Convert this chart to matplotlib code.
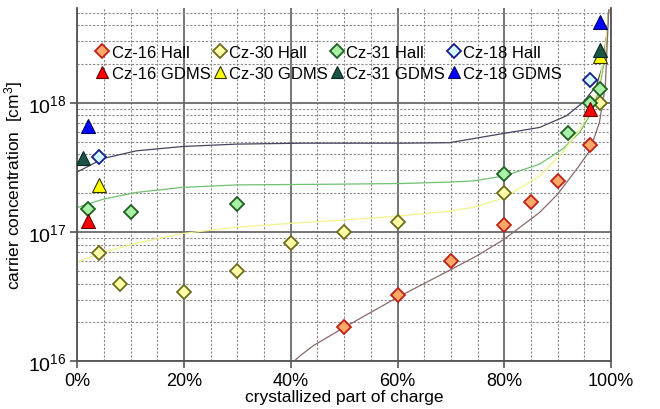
import math
import matplotlib
matplotlib.use("Agg")
import matplotlib.pyplot as plt
from matplotlib.ticker import FixedLocator, LogLocator, NullFormatter, FuncFormatter

plt.rcParams['font.family'] = ['Liberation Sans', 'DejaVu Sans']
plt.rcParams['mathtext.fontset'] = 'custom'
plt.rcParams['mathtext.rm'] = 'Liberation Sans'
plt.rcParams['mathtext.it'] = 'Liberation Sans:italic'

# ---- measured points (fraction crystallized, carrier concentration cm^-3) ----
x16_hall = [0.50, 0.60, 0.70, 0.80, 0.85, 0.90, 0.96]
c16_hall = [1.85e16, 3.26e16, 6.0e16, 1.14e17, 1.70e17, 2.5e17, 4.7e17]

x30_hall = [0.04, 0.08, 0.20, 0.30, 0.40, 0.50, 0.60, 0.80, 0.98]
c30_hall = [6.9e16, 4.0e16, 3.45e16, 4.96e16, 8.2e16, 1.0e17, 1.2e17, 2.0e17, 1.0e18]

x31_hall = [0.02, 0.10, 0.30, 0.80, 0.92, 0.96, 0.98]
c31_hall = [1.52e17, 1.44e17, 1.64e17, 2.84e17, 5.8e17, 1.0e18, 1.28e18]

x18_hall = [0.04, 0.96]
c18_hall = [3.8e17, 1.5e18]

x16_gdms = [0.02, 0.96]
c16_gdms = [1.22e17, 9.0e17]
x30_gdms = [0.04, 0.98]
c30_gdms = [2.33e17, 2.3e18]
x31_gdms = [0.01, 0.98]
c31_gdms = [3.75e17, 2.58e18]
x18_gdms = [0.02, 0.98]
c18_gdms = [6.6e17, 4.2e18]

# ---- fitted curves ----
x18_fit = [0, 0.049, 0.111, 0.198, 0.298, 0.423, 0.61, 0.697, 0.772, 0.866, 0.916, 0.947, 0.972, 0.984, 0.992, 0.9955]
c18_fit = [2.92e17, 3.72e17, 4.26e17, 4.60e17, 4.80e17, 4.88e17, 4.88e17, 4.92e17, 5.56e17, 6.46e17,
           7.94e17, 1.007e18, 1.35e18, 1.93e18, 3.50e18, 5.25e18]

x31_fit = [0, 0.049, 0.111, 0.198, 0.298, 0.485, 0.61, 0.697, 0.741, 0.80, 0.866, 0.909, 0.941, 0.963, 0.978, 0.989, 0.9955]
c31_fit = [1.55e17, 1.80e17, 2.03e17, 2.22e17, 2.32e17, 2.35e17, 2.38e17, 2.44e17, 2.49e17, 2.72e17,
           3.36e17, 4.39e17, 5.90e17, 8.43e17, 1.28e18, 2.31e18, 5.25e18]

x30_fit = [0, 0.049, 0.111, 0.198, 0.298, 0.40, 0.50, 0.60, 0.697, 0.74, 0.80, 0.866, 0.909, 0.941, 0.963, 0.978, 0.989, 0.9955]
c30_fit = [5.89e16, 6.97e16, 8.22e16, 9.77e16, 1.09e17, 1.17e17, 1.24e17, 1.33e17, 1.45e17, 1.55e17,
           1.84e17, 2.72e17, 4.13e17, 6.27e17, 8.93e17, 1.44e18, 2.60e18, 5.25e18]

x16_fit = [0.398, 0.417, 0.442, 0.50, 0.60, 0.70, 0.75, 0.80, 0.866, 0.90, 0.94, 0.96, 0.978, 0.989, 0.9955]
c16_fit = [9.33e15, 1.10e16, 1.32e16, 1.83e16, 3.13e16, 5.13e16, 6.61e16, 8.83e16, 1.42e17, 1.97e17,
           3.26e17, 4.27e17, 7.05e17, 1.35e18, 5.25e18]

x_ticks = [0, 0.2, 0.4, 0.6, 0.8, 1.0]
x_tick_labels = ['0%', '20%', '40%', '60%', '80%', '100%']

fig = plt.figure(figsize=(6.6, 4.1), dpi=100)
ax = fig.add_axes([0.117, 0.1163, 0.809, 0.8610])
ax.set_yscale('log')
ax.set_xlim(0, 1)
ax.set_ylim(1e16, 5.4e18)

# grid
ax.xaxis.set_major_locator(FixedLocator(x_ticks))
ax.xaxis.set_minor_locator(FixedLocator([i * 0.05 for i in range(21)]))
ax.yaxis.set_major_locator(LogLocator(base=10, numticks=10))
ax.yaxis.set_minor_locator(LogLocator(base=10, subs=range(2, 10), numticks=20))
ax.yaxis.set_minor_formatter(NullFormatter())
ax.set_xticklabels(x_tick_labels)
ax.yaxis.set_major_formatter(FuncFormatter(lambda v, p: r'$10^{%d}$' % round(math.log10(v))))
ax.grid(True, which='major', color='#6a6a6a', lw=1.3, ls='-')
ax.grid(True, which='minor', color='#8a8a8a', lw=0.8, ls=(0, (2, 1.5)))
ax.set_axisbelow(True)
ax.tick_params(which='major', direction='out', length=5, width=1.2, color='#555555',
               labelsize=13, pad=3)
ax.tick_params(axis='y', which='major', labelsize=14)
ax.tick_params(which='minor', length=0)
ax.spines['top'].set_visible(False)
for s in ['left', 'bottom', 'right']:
    ax.spines[s].set_color('#555555')
    ax.spines[s].set_linewidth(1.3)

# curves
ax.plot(x18_fit, c18_fit, color='#45455e', lw=0.9, zorder=2)
ax.plot(x31_fit, c31_fit, color='#72c072', lw=0.9, zorder=2)
ax.plot(x30_fit, c30_fit, color='#f4f28a', lw=0.9, zorder=2)
ax.plot(x16_fit, c16_fit, color='#8a6a6a', lw=0.9, zorder=2)

ms_d = 7.2
ms_t = 9.5
h16h, = ax.plot(x16_hall, c16_hall, 'D', ms=ms_d, mfc='#ffa868', mec='#c0201a', mew=1.3, ls='none', zorder=4, label='Cz-16 Hall')
h30h, = ax.plot(x30_hall, c30_hall, 'D', ms=ms_d, mfc='#ffffa8', mec='#6e6a1e', mew=1.3, ls='none', zorder=4, label='Cz-30 Hall')
h31h, = ax.plot(x31_hall, c31_hall, 'D', ms=ms_d, mfc='#a8f0a8', mec='#1f5f1f', mew=1.3, ls='none', zorder=4, label='Cz-31 Hall')
h18h, = ax.plot(x18_hall, c18_hall, 'D', ms=ms_d, mfc='#d4f8ff', mec='#1a1a90', mew=1.3, ls='none', zorder=4, label='Cz-18 Hall')
h16g, = ax.plot(x16_gdms, c16_gdms, '^', ms=ms_t, mfc='#ff0000', mec='#600000', mew=0.8, ls='none', zorder=5, label='Cz-16 GDMS')
h30g, = ax.plot(x30_gdms, c30_gdms, '^', ms=ms_t, mfc='#ffff00', mec='#303000', mew=0.8, ls='none', zorder=5, label='Cz-30 GDMS')
h31g, = ax.plot(x31_gdms, c31_gdms, '^', ms=ms_t, mfc='#1a5548', mec='#0a2a20', mew=0.8, ls='none', zorder=5, label='Cz-31 GDMS')
h18g, = ax.plot(x18_gdms, c18_gdms, '^', ms=ms_t, mfc='#0000ff', mec='#000060', mew=0.8, ls='none', zorder=5, label='Cz-18 GDMS')

handles = [h16h, h16g, h30h, h30g, h31h, h31g, h18h, h18g]
leg = ax.legend(handles=handles, labels=[h.get_label() for h in handles], ncol=4,
                loc='upper left', bbox_to_anchor=(0.016, 0.93), frameon=False,
                fontsize=12, handlelength=0.6, handletextpad=0.25, columnspacing=0.25,
                labelspacing=0.35, borderpad=0.2, markerscale=0.95)

ax.set_xlabel('crystallized part of charge', fontsize=12.5, labelpad=0)
ax.set_ylabel(r'carrier concentration  [cm$^3$]', fontsize=12.5, labelpad=2)

fig.savefig('out.png', dpi=100)
